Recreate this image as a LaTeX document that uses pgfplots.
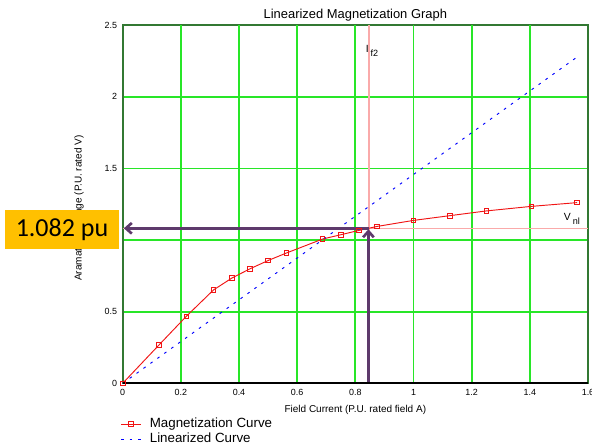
\documentclass[border=0pt]{standalone}
\usepackage{pgfplots}
\pgfplotsset{compat=1.18}
\usepackage{fontspec}
\setmainfont{Liberation Sans}
\newfontfamily\calib{Carlito}
\usetikzlibrary{arrows.meta}
\definecolor{gridgreen}{RGB}{40,230,40}
\definecolor{framegreen}{RGB}{50,120,50}
\definecolor{pinkline}{RGB}{250,170,170}
\definecolor{arrowpurple}{RGB}{94,58,108}
\definecolor{boxorange}{RGB}{255,192,0}
\definecolor{magred}{RGB}{240,20,20}
\begin{document}
\begin{tikzpicture}
\path[use as bounding box] (0pt,0pt) rectangle (444pt,333pt);
\begin{axis}[
  at={(92.0pt,45.5pt)}, anchor=south west,
  scale only axis, width=349pt, height=268.7pt,
  xmin=0, xmax=1.6, ymin=0, ymax=2.5,
  xtick={0,0.2,0.4,0.6,0.8,1,1.2,1.4,1.6}, ytick={0,0.5,1,1.5,2,2.5},
  major tick length=0pt,
  ymajorgrids=true, xmajorgrids=false,
  major grid style={draw=gridgreen, line width=1.3pt},
  axis line style={framegreen, line width=1.5pt},
  tick label style={font=\fontsize{6.7}{7.5}\selectfont},
  /pgf/number format/assume math mode=true,
  xticklabel style={anchor=north, inner sep=0pt, yshift=-4.3pt},
  yticklabel style={anchor=east, inner sep=0pt, xshift=-4pt},
  every axis title shift=0pt,
  title={Linearized Magnetization Graph},
  title style={font=\fontsize{9.7}{10.5}\selectfont, at={(axis description cs:0.5,1.027)}, anchor=center, inner sep=0pt},
  xlabel={Field Current (P.U. rated field A)},
  xlabel style={font=\fontsize{7.5}{8.5}\selectfont, at={(axis description cs:0.5,-0.0745)}, anchor=center, inner sep=0pt},
  ylabel={Aramature Voltage (P.U. rated V)},
  ylabel style={font=\fontsize{7.5}{8.5}\selectfont, at={(axis description cs:-0.094,0.489)}, anchor=center, inner sep=0pt},
  clip=false,
  legend image code/.code={\draw[mark repeat=2,mark phase=2,#1] plot coordinates {(0pt,0pt)(7.5pt,0pt)(15pt,0pt)};},
  legend cell align=left,
  legend style={at={(axis description cs:-0.0043,-0.0927)}, anchor=north west, draw=none, fill=none,
    inner sep=0pt, outer sep=0pt, row sep=0pt, font=\fontsize{10}{11}\selectfont,
    nodes={inner sep=0pt, text height=8pt, text depth=3.25pt},
    /tikz/every odd column/.style={column sep=6.2pt}},
  vgrid/.style={fill=gridgreen, draw=none, forget plot},
]
% vertical grid lines as thin filled strips
\addplot[vgrid] coordinates {(0.1971,0) (0.2029,0) (0.2029,2.5) (0.1971,2.5)} --cycle;
\addplot[vgrid] coordinates {(0.3971,0) (0.4029,0) (0.4029,2.5) (0.3971,2.5)} --cycle;
\addplot[vgrid] coordinates {(0.5971,0) (0.6029,0) (0.6029,2.5) (0.5971,2.5)} --cycle;
\addplot[vgrid] coordinates {(0.7971,0) (0.8029,0) (0.8029,2.5) (0.7971,2.5)} --cycle;
\addplot[vgrid] coordinates {(0.9971,0) (1.0029,0) (1.0029,2.5) (0.9971,2.5)} --cycle;
\addplot[vgrid] coordinates {(1.1971,0) (1.2029,0) (1.2029,2.5) (1.1971,2.5)} --cycle;
\addplot[vgrid] coordinates {(1.3971,0) (1.4029,0) (1.4029,2.5) (1.3971,2.5)} --cycle;
% reference lines
\addplot[pinkline, line width=1.3pt, forget plot] coordinates {(0.847,0) (0.847,2.5)};
\addplot[pinkline, line width=0.9pt, forget plot] coordinates {(0,1.082) (1.6,1.082)};
% data
\addplot[magred, line width=0.7pt, mark=square, mark size=1.7pt, mark options={solid, line width=0.6pt}]
  coordinates {
  (0,0) (0.125,0.268) (0.219,0.468) (0.3125,0.652) (0.375,0.734) (0.4375,0.799)
  (0.5,0.857) (0.5625,0.909) (0.6875,1.007) (0.75,1.037) (0.8125,1.067)
  (0.875,1.095) (1.0,1.137) (1.125,1.170) (1.25,1.203) (1.406,1.235) (1.5625,1.261)
  };
\addlegendentry{Magnetization Curve}
\addplot[blue, line width=0.7pt, dash pattern=on 2pt off 4.4pt]
  coordinates {(0,0) (1.5625,2.277)};
\addlegendentry{Linearized Curve}
% annotation arrows
\addplot[arrowpurple, line width=2pt, -{Straight Barb[length=4.5pt,width=8pt]}, forget plot]
  coordinates {(0.847,1.082) (0.004,1.082)};
\addplot[arrowpurple, line width=2pt, -{Straight Barb[length=4.5pt,width=8pt]}, forget plot]
  coordinates {(0.845,0) (0.845,1.075)};
\node[anchor=west, inner sep=0pt, font=\fontsize{7.8}{8.5}\selectfont] at (axis cs:0.835,2.318)
  {I\hspace{1.5pt}\raisebox{-3pt}{\fontsize{6.8}{7.5}\selectfont f2}};
\node[anchor=west, inner sep=0pt, font=\fontsize{7.8}{8.5}\selectfont] at (axis cs:1.516,1.149)
  {V\hspace{1.5pt}\raisebox{-3pt}{\fontsize{6.8}{7.5}\selectfont nl}};
\draw[black, line width=1.4pt] (rel axis cs:0,0) -- (rel axis cs:1,0);
\end{axis}
\fill[boxorange] (3.75pt,146.25pt) rectangle (89.25pt,175.5pt);
\node[font=\calib\fontsize{19.5}{21}\selectfont, inner sep=0pt] at (46.5pt,160.6pt) {1.082 pu};
\end{tikzpicture}
\end{document}
